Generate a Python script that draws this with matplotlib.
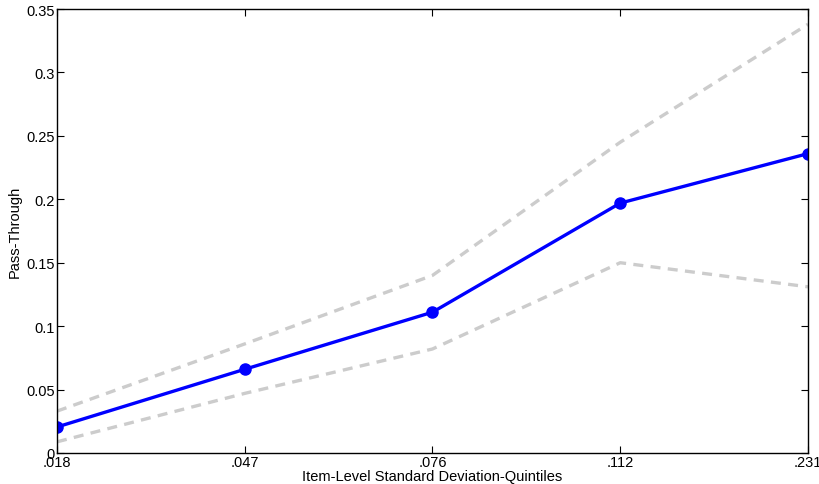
import numpy as np
import matplotlib
matplotlib.use("Agg")
import matplotlib.pyplot as plt

plt.rcParams['font.family'] = ['Liberation Sans', 'DejaVu Sans']

quintiles = ['.018', '.047', '.076', '.112', '.231']
pass_through = [0.0205, 0.066, 0.111, 0.197, 0.236]
ci_upper = [0.033, 0.086, 0.140, 0.245, 0.338]
ci_lower = [0.0088, 0.047, 0.082, 0.150, 0.131]

fig = plt.figure(figsize=(8.2, 4.85), dpi=100)
ax = fig.add_axes([57/820, 1 - 454/485, (808-57)/820, (454-10)/485])

x = np.arange(len(quintiles))
ax.plot(x, ci_upper, '--', color='#cccccc', linewidth=2.4, dashes=(3, 2.2))
ax.plot(x, ci_lower, '--', color='#cccccc', linewidth=2.4, dashes=(3, 2.2))
ax.plot(x, pass_through, '-o', color='#0000ff', linewidth=2.4, markersize=8)

ax.set_xlim(0, 4)
ax.set_ylim(0, 0.35)
ax.set_xticks(x)
ax.set_xticklabels(quintiles)
ax.set_yticks(np.arange(0, 0.351, 0.05))
ax.set_yticklabels(['0', '0.05', '0.1', '0.15', '0.2', '0.25', '0.3', '0.35'])
ax.tick_params(direction='in', top=True, right=True, labelsize=10.5, length=5, width=0.8, pad=1.5)
for s in ax.spines.values():
    s.set_linewidth(1.0)

ax.set_xlabel('Item-Level Standard Deviation-Quintiles', fontsize=10.5, labelpad=0)
ax.set_ylabel('Pass-Through', fontsize=10.5, labelpad=3)

plt.savefig('out.png', dpi=100)
